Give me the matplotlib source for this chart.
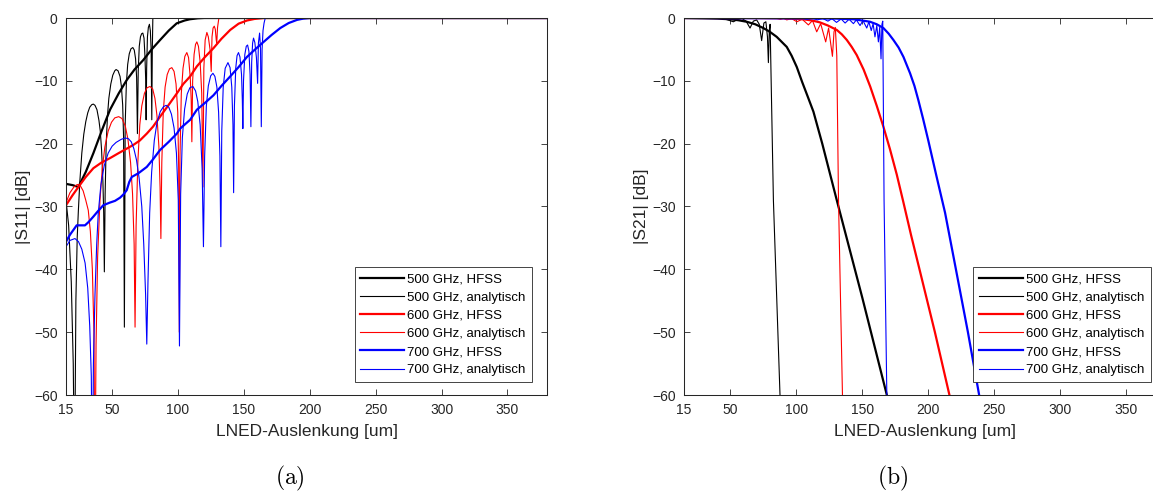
import matplotlib
matplotlib.use("Agg")
import matplotlib.pyplot as plt

# --- Daten ---
# (a) |S11|
s11_500_hfss_x = [15, 20, 24.4, 30, 35.8, 42, 48.4, 55, 61, 67, 73.6, 80, 86.4, 93, 99, 105, 109, 115, 120, 380]
s11_500_hfss_y = [-26.4, -26.6, -26.9, -24.5, -21.5, -18, -14.6, -12, -9.9, -8.2, -6.7, -5, -3.5, -2, -0.85, -0.4, -0.2, -0.05, 0, 0]

s11_500_ana_x = [15, 17, 19, 20.5, 21.5, 22.5, 23.5, 24.4, 25.5, 27, 28.5, 30, 31.5, 33, 34.5, 35.7, 37, 38.5, 40,
                 41, 42, 43, 43.6, 44.1, 44.7, 45.5, 46.5, 47.5, 49, 50.5, 52, 53, 54.5, 56, 57, 58, 58.7, 59.3,
                 59.9, 60.8, 61.8, 63, 64.3, 65.7, 66.8, 67.8, 68.6, 69.2, 69.8, 70.6, 71.5, 72.4, 73.3, 74.2,
                 74.9, 75.5, 75.8, 76.2, 76.8, 77.5, 78.3, 79, 79.6, 80.1, 80.5, 80.9, 380]
s11_500_ana_y = [-29, -33, -42, -55, -75, -45, -35, -30.6, -26, -21.5, -18.5, -16.5, -15.1, -14.2, -13.8, -13.7,
                 -13.9, -14.6, -16.3, -18, -21, -26, -31, -40.4, -28, -20, -15.5, -12.8, -10.5, -9.1, -8.4, -8.2,
                 -8.4, -9.3, -10.8, -13.8, -19, -49.2, -17, -10.5, -7.4, -5.7, -4.9, -4.7, -5.1, -6.5, -9.5,
                 -18.4, -8.5, -4.5, -3, -2.5, -2.4, -3.2, -6, -10, -16.2, -8, -3, -1.5, -1, -2, -5, -16.2, -5, 0, 0]

s11_600_hfss_x = [15, 20, 24.4, 30, 35.8, 42, 48.4, 55, 61, 66.1, 71, 76.3, 81, 86.4, 93, 99.1, 104, 109.2, 114.3,
                  120.5, 126.9, 133, 139.6, 146, 152.3, 158, 165, 380]
s11_600_hfss_y = [-29.8, -28.2, -26.9, -25.3, -23.9, -23, -22.3, -21.5, -20.8, -20.2, -19.5, -18.4, -17.3, -15.7,
                  -13.8, -12, -10.5, -9.3, -7.7, -6.2, -4.8, -3.3, -1.9, -0.9, -0.4, -0.15, 0, 0]

s11_600_ana_x = [15, 18, 21, 23.5, 25.6, 28, 30, 31.9, 33.5, 35, 36.2, 37, 37.8, 39, 40.8, 42.5, 44.5, 47, 49.5,
                 52, 55, 57.5, 60, 62, 64, 65.5, 66.7, 67.4, 68.2, 69.5, 71, 72.5, 74.5, 76.5, 78.8, 80.8, 82.5,
                 84, 85.5, 86.4, 87, 87.7, 88.8, 90.2, 91.8, 93.5, 95.3, 97, 98.5, 99.8, 100.5, 101, 101.5, 102.5,
                 103.8, 105.2, 106.7, 108, 109.3, 110, 110.5, 111.1, 112.2, 113.3, 114.3, 115.5, 116.8, 118,
                 118.9, 119.6, 120.6, 121.9, 123, 124.3, 125.2, 125.8, 126.6, 127.5, 128.3, 129, 129.4, 130, 131,
                 380]
s11_600_ana_y = [-29.4, -27.8, -26.9, -26.5, -26.6, -27.5, -29, -30.6, -34, -40, -50, -75, -52, -38, -29, -24,
                 -20.5, -18, -16.6, -15.9, -15.7, -16, -17.2, -19.3, -23, -28, -36, -49.2, -33, -23, -17, -14, -12,
                 -11.1, -10.9, -11.3, -12.8, -15.5, -20.5, -27, -35.1, -23, -15, -11, -9, -8.1, -7.9, -8.5, -10.5,
                 -15, -24, -50, -22, -12, -8, -6.1, -5.5, -6.3, -9.5, -13, -19.7, -10, -5.8, -4.2, -3.8, -4.5, -7,
                 -12, -26.9, -8, -3.5, -2.3, -3, -5, -8.5, -3, -1.6, -1.3, -1.8, -3.5, -4, -1.5, 0, 0]

s11_700_hfss_x = [15, 18, 23.1, 29.4, 32, 35.8, 39, 43.3, 48, 52.2, 56, 58.5, 61.1, 63, 64.9, 70, 76.3, 81, 86.4,
                  93, 99.1, 101.6, 109.2, 114.3, 120.5, 126.9, 133, 139.6, 146, 152.3, 158.5, 165, 171, 177.6,
                  184, 190.3, 195, 200, 380]
s11_700_hfss_y = [-35.6, -34.5, -33, -33, -32.5, -31.6, -30.8, -29.8, -29.4, -29.1, -28.6, -28.1, -27.4, -26.1,
                  -25.3, -24.7, -23.7, -22.5, -21, -19.7, -18.4, -17.6, -16.2, -14.6, -13.5, -12.3, -10.8, -9.3,
                  -7.8, -6.2, -5, -3.8, -2.7, -1.6, -0.8, -0.3, -0.1, 0, 0]

s11_700_ana_x = [15, 18, 21.8, 24.5, 27, 29.5, 31.5, 33, 34.2, 35, 35.8, 37, 38.3, 39.5, 41.5, 44, 47, 50, 53, 57,
                 60, 62.3, 64.5, 66.5, 68.5, 70.5, 72.5, 74, 75.4, 76.3, 77.2, 78.5, 80, 82, 84, 86.5, 89, 91, 93,
                 95, 97, 98.8, 100.2, 101.1, 102, 103.3, 105, 107, 109, 111.3, 113.3, 115, 116.8, 118.3, 119.3,
                 120.2, 121.5, 123, 124.8, 126.5, 128, 129.5, 130.8, 131.8, 132.5, 133.2, 134.3, 135.8, 137.9,
                 139.5, 140.8, 141.7, 142.2, 142.8, 143.8, 144.8, 145.9, 147, 148.2, 148.8, 149.2, 149.7, 150.7,
                 151.8, 152.8, 153.8, 154.7, 155.3, 155.9, 156.6, 157.3, 158.3, 159.5, 160.4, 161, 161.9, 162.6,
                 163.2, 163.8, 164.5, 165.3, 166.2, 380]
s11_700_ana_y = [-36.4, -35.4, -35.1, -35.6, -36.8, -39, -43, -49, -57, -75, -55, -44, -36, -31, -26.5, -23.5,
                 -21.5, -20.4, -19.8, -19.3, -19.1, -19.2, -19.7, -20.8, -22.6, -25.5, -30, -36, -44, -51.9, -42,
                 -31, -24.5, -19.5, -16.7, -14.9, -14.1, -13.9, -14.2, -15.3, -17.5, -21.5, -29, -52.2, -28, -19,
                 -14.5, -12.1, -11.1, -10.9, -11.6, -13.3, -17, -24, -36.4, -22, -14, -10.8, -9.2, -8.8, -9.3, -11,
                 -15, -22, -36.4, -18, -11, -8, -7.1, -7.9, -11, -17, -27.8, -14, -8, -6, -5.5, -6.2, -9, -13,
                 -17.6, -10, -5.8, -4.5, -4.3, -5.3, -9, -17.3, -7, -4, -3.2, -3.9, -6.3, -10.4, -4, -2.4, -4.8,
                 -17.3, -5, -2, -0.8, 0, 0]

# (b) |S21|
s21_500_hfss_x = [15, 30, 40, 49.8, 56, 62.5, 69, 75.1, 80, 85.2, 89, 92.8, 96.5, 100.4, 104.5, 108.5, 113, 119.7,
                  130.7, 150, 168.6, 175]
s21_500_hfss_y = [0, -0.05, -0.1, -0.2, -0.35, -0.6, -1, -1.6, -2.2, -3, -3.8, -4.6, -6, -7.8, -10.2, -12.4,
                  -14.9, -20, -29, -44.5, -60, -65]

s21_500_ana_x = [15, 44, 48, 52.4, 56, 59, 62, 65, 67.5, 70, 72, 73.8, 75.5, 77, 78.2, 78.9, 79.6, 80.2, 81,
                 82.7, 87.7, 90]
s21_500_ana_y = [0, -0.05, -0.3, -0.6, -0.2, -0.1, -0.5, -1.6, -0.5, -0.3, -1, -3.6, -0.8, -0.6, -3, -7.1, -2,
                 -1, -10, -29, -60, -72]

s21_600_hfss_x = [15, 60, 90, 105.4, 112, 118, 124, 130.7, 134.5, 138.3, 142, 145.8, 151, 156, 161, 166, 171,
                  176.1, 181, 187, 193.8, 205, 216, 222]
s21_600_hfss_y = [0, 0, -0.05, -0.2, -0.4, -0.7, -1.2, -1.9, -2.6, -3.5, -4.6, -5.9, -8.2, -10.9, -14, -17.3,
                  -20.9, -24.9, -29.2, -34.6, -40.4, -50, -60, -65]

s21_600_ana_x = [15, 85, 88, 90.5, 92.8, 96.5, 100.5, 104.5, 109.2, 112.3, 115.5, 118.5, 122.3, 124.5, 127.4,
                 128.6, 129.6, 130.7, 132, 135, 137]
s21_600_ana_y = [0, -0.05, -0.2, -0.05, -0.3, -0.1, -0.6, -0.2, -1.1, -0.4, -2.2, -0.9, -3.8, -1.6, -6.1, -2.2,
                 -1.5, -6, -29, -60, -80]

s21_700_hfss_x = [15, 100, 130, 143.3, 150, 155.9, 161, 166, 170, 173.6, 177.5, 181.2, 186.2, 189.5, 192.5, 196,
                  200, 206, 212.7, 220, 230, 238.5, 245]
s21_700_hfss_y = [0, -0.05, -0.1, -0.2, -0.4, -0.6, -1, -1.6, -2.5, -3.5, -4.7, -6.2, -8.8, -10.8, -13.1, -16,
                  -19.5, -25, -31, -39, -50, -60, -67]

s21_700_ana_x = [15, 100, 104, 108, 112, 116, 120, 124, 127, 130.5, 134, 137, 140, 143.3, 145.5, 148.3, 150.5,
                 153.4, 155, 156.8, 158.2, 159.6, 161, 162.2, 163.2, 164.2, 164.9, 165.5, 166.5, 168.6, 170]
s21_700_ana_y = [0, -0.1, 0, -0.2, 0, -0.3, -0.05, -0.5, -0.1, -0.7, -0.15, -0.8, -0.2, -0.9, -0.3, -1.2, -0.4,
                 -1.6, -0.6, -2, -0.9, -3, -1.2, -3.8, -1.5, -6.5, -1, -0.5, -29, -60, -75]

labels = ["500 GHz, HFSS", "500 GHz, analytisch", "600 GHz, HFSS", "600 GHz, analytisch",
          "700 GHz, HFSS", "700 GHz, analytisch"]
xticks = [15, 50, 100, 150, 200, 250, 300, 350]
yticks = [-60, -50, -40, -30, -20, -10, 0]

plt.rcParams["font.family"] = ["Liberation Sans", "DejaVu Sans"]
plt.rcParams["mathtext.fontset"] = "cm"

fig = plt.figure(figsize=(11.53, 4.94), dpi=100)
ax1 = fig.add_axes([66 / 1153, 99 / 494, 481 / 1153, 377 / 494])
ax2 = fig.add_axes([684 / 1153, 99 / 494, 482 / 1153, 377 / 494])

grau = "#262626"
dick, duenn = 1.6, 0.8


def zeichne(ax, kurven, ylabel):
    for (x, y), farbe, lw, lab in kurven:
        ax.plot(x, y, color=farbe, lw=lw, label=lab)
    ax.set_xlim(15, 380)
    ax.set_ylim(-60, 0)
    ax.set_xticks(xticks)
    ax.set_yticks(yticks)
    ax.tick_params(direction="in", top=True, right=True, length=4, width=0.6,
                   labelsize=10, colors=grau, pad=6)
    for sp in ax.spines.values():
        sp.set_color(grau)
        sp.set_linewidth(0.75)
    ax.set_xlabel("LNED-Auslenkung [um]", fontsize=12.5, color=grau, labelpad=5)
    ax.set_ylabel(ylabel, fontsize=12.5, color=grau, labelpad=2)
    leg = ax.legend(loc="lower right", bbox_to_anchor=(0.968, 0.034), borderaxespad=0,
                    fontsize=9.5, frameon=True, fancybox=False, framealpha=1,
                    edgecolor=grau, handlelength=3.3, handletextpad=0.25,
                    labelspacing=0.45, borderpad=0.45)
    leg.get_frame().set_linewidth(0.6)


zeichne(ax1, [((s11_500_hfss_x, s11_500_hfss_y), "black", dick, labels[0]),
              ((s11_500_ana_x, s11_500_ana_y), "black", duenn, labels[1]),
              ((s11_600_hfss_x, s11_600_hfss_y), "red", dick, labels[2]),
              ((s11_600_ana_x, s11_600_ana_y), "red", duenn, labels[3]),
              ((s11_700_hfss_x, s11_700_hfss_y), "blue", dick, labels[4]),
              ((s11_700_ana_x, s11_700_ana_y), "blue", duenn, labels[5])], "|S11| [dB]")

zeichne(ax2, [((s21_500_hfss_x, s21_500_hfss_y), "black", dick, labels[0]),
              ((s21_500_ana_x, s21_500_ana_y), "black", duenn, labels[1]),
              ((s21_600_hfss_x, s21_600_hfss_y), "red", dick, labels[2]),
              ((s21_600_ana_x, s21_600_ana_y), "red", duenn, labels[3]),
              ((s21_700_hfss_x, s21_700_hfss_y), "blue", dick, labels[4]),
              ((s21_700_ana_x, s21_700_ana_y), "blue", duenn, labels[5])], "|S21| [dB]")

fig.text(290 / 1153, 1 - 478 / 494, r"$\mathrm{(a)}$", fontsize=17, ha="center", va="center")
fig.text(893 / 1153, 1 - 478 / 494, r"$\mathrm{(b)}$", fontsize=17, ha="center", va="center")

fig.savefig("out.png", dpi=100)
